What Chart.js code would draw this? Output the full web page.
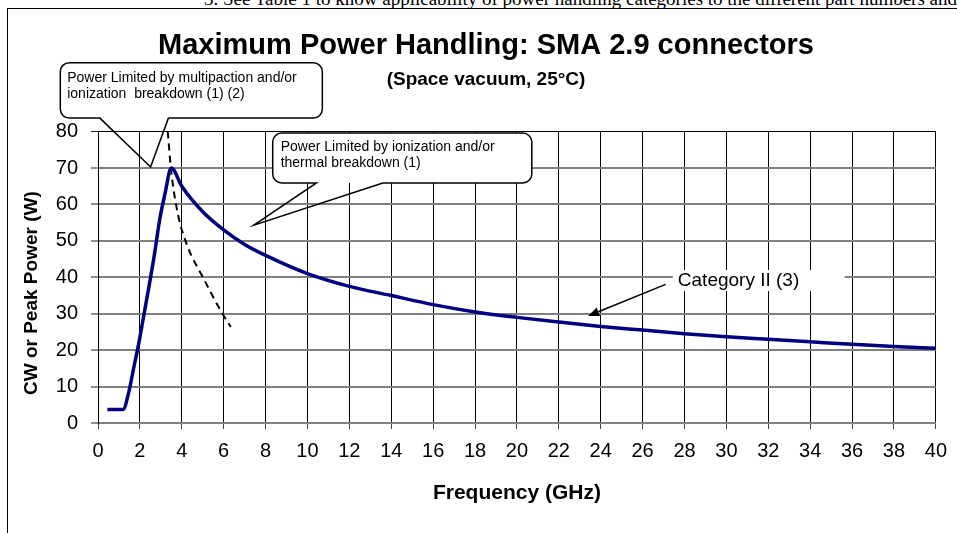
<!DOCTYPE html>
<html>
<head>
<meta charset="utf-8">
<script src="https://cdn.jsdelivr.net/npm/chart.js@4.4.1/dist/chart.umd.min.js"></script>
<style>
  html, body { margin: 0; padding: 0; background: #fff; overflow: hidden; }
  #page { position: relative; width: 957px; height: 533px; }
  .note { position: absolute; left: 204px; top: -11px; font: 19px 'Liberation Serif', 'Times New Roman', serif; line-height: 19px; white-space: nowrap; }
  .frame { position: absolute; left: 7px; top: 8px; right: 0; bottom: 0; border-left: 1px solid #000; border-top: 1px solid #000; }
  canvas { position: absolute; left: 0; top: 0; }
</style>
</head>
<body>
<div id="page">
  <div class="note">3. See Table 1 to know applicability of power handling categories to the different part numbers and</div>
  <div class="frame"></div>
  <canvas id="chart" width="957" height="533"></canvas>
</div>
<script>
// ===== Data =====
const freqGHz = [0.45, 1.2, 1.45, 1.7, 1.95, 2.2, 2.45, 2.7, 2.95, 3.2, 3.5, 4, 5, 6, 7, 8, 10, 12, 14, 16, 18, 20, 22, 24, 26, 28, 30, 32, 34, 36, 38, 40];
const powerW = [3.7, 3.7, 8, 15, 22, 30, 38, 46.5, 56, 63, 70, 65, 58, 53, 49, 46, 41, 37.5, 35, 32.5, 30.5, 29, 27.7, 26.5, 25.5, 24.5, 23.7, 23, 22.3, 21.6, 21, 20.5];

// dashed multipaction / ionization limit
const limitFreqGHz = [3.33, 3.49, 3.81, 4.28, 5.0, 5.94, 6.34];
const limitPowerW = [80, 69.4, 57.5, 48.4, 40.1, 30.0, 26.4];

const xTickValues = [0, 2, 4, 6, 8, 10, 12, 14, 16, 18, 20, 22, 24, 26, 28, 30, 32, 34, 36, 38, 40];
const yTickValues = [0, 10, 20, 30, 40, 50, 60, 70, 80];

const titleText = 'Maximum Power Handling: SMA 2.9 connectors';
const subtitleText = '(Space vacuum, 25°C)';
const xTitle = 'Frequency (GHz)';
const yTitle = 'CW or Peak Power (W)      '; // trailing spaces nudge it down like the original

// ===== Callouts (placed in data units) =====
const bubbles = [
  { lines: ['Power Limited by multipaction and/or', 'ionization  breakdown (1) (2)'],
    box: [-1.8, 10.71, 98.9, 83.7], base: [0.09, 3.36], tip: [2.51, 70.3], text: [-1.47, 94.6, 90.4] },
  { lines: ['Power Limited by ionization and/or', 'thermal breakdown (1)'],
    box: [8.34, 20.71, 79.6, 65.9], base: [10.43, 13.6], tip: [7.44, 54.3], text: [8.72, 75.8, 71.3] }
];
const categoryLabel = { text: 'Category II (3)', bg: [27.44, 35.65, 42.0, 36.2], at: [27.68, 39.0], from: [27.1, 38.05], to: [23.4, 29.4] };

const FONT = "'Liberation Sans', Arial, sans-serif";

function roundedPath(ctx, l, t, r, b, rad, b1, b2, tip) {
  ctx.beginPath();
  ctx.moveTo(b2, b);
  ctx.lineTo(r - rad, b);
  ctx.arcTo(r, b, r, b - rad, rad);
  ctx.lineTo(r, t + rad);
  ctx.arcTo(r, t, r - rad, t, rad);
  ctx.lineTo(l + rad, t);
  ctx.arcTo(l, t, l, t + rad, rad);
  ctx.lineTo(l, b - rad);
  ctx.arcTo(l, b, l + rad, b, rad);
  ctx.lineTo(b1, b);
  if (tip) {
    ctx.lineTo(tip[0], tip[1]);
    ctx.lineTo(b2, b);
  } else {
    ctx.closePath();
  }
}

const calloutPlugin = {
  id: 'callouts',
  afterDatasetsDraw(chart) {
    const { ctx, scales: { x, y } } = chart;
    const px = v => x.getPixelForValue(v);
    const py = v => y.getPixelForValue(v);
    ctx.save();

    bubbles.forEach(bb => {
      const l = px(bb.box[0]), r = px(bb.box[1]), t = py(bb.box[2]), b = py(bb.box[3]);
      const rad = 9;
      // white body
      roundedPath(ctx, l, t, r, b, rad, l + rad, l + rad, null);
      ctx.fillStyle = '#fff';
      ctx.fill();
      // outline + wedge
      roundedPath(ctx, l, t, r, b, rad, px(bb.base[0]), px(bb.base[1]), [px(bb.tip[0]), py(bb.tip[1])]);
      ctx.lineWidth = 1.5;
      ctx.strokeStyle = '#000';
      ctx.stroke();
      // text
      ctx.fillStyle = '#000';
      ctx.font = '14px ' + FONT;
      ctx.textAlign = 'left';
      ctx.textBaseline = 'middle';
      bb.lines.forEach((ln, i) => ctx.fillText(ln, px(bb.text[0]), py(bb.text[i + 1])));
    });

    // Category II label with arrow
    const c = categoryLabel;
    ctx.fillStyle = '#fff';
    ctx.fillRect(px(c.bg[0]), py(c.bg[2]), px(c.bg[1]) - px(c.bg[0]), py(c.bg[3]) - py(c.bg[2]));
    ctx.fillStyle = '#000';
    ctx.font = '19px ' + FONT;
    ctx.textAlign = 'left';
    ctx.textBaseline = 'middle';
    ctx.fillText(c.text, px(c.at[0]), py(c.at[1]));

    const x0 = px(c.from[0]), y0 = py(c.from[1]), x1 = px(c.to[0]), y1 = py(c.to[1]);
    const ang = Math.atan2(y1 - y0, x1 - x0);
    const hl = 11, hw = 4.5;
    const bx = x1 - hl * Math.cos(ang), by = y1 - hl * Math.sin(ang);
    ctx.beginPath();
    ctx.moveTo(x0, y0);
    ctx.lineTo(bx, by);
    ctx.lineWidth = 1.5;
    ctx.strokeStyle = '#000';
    ctx.stroke();
    ctx.beginPath();
    ctx.moveTo(x1, y1);
    ctx.lineTo(bx + hw * Math.sin(ang), by - hw * Math.cos(ang));
    ctx.lineTo(bx - hw * Math.sin(ang), by + hw * Math.cos(ang));
    ctx.closePath();
    ctx.fill();

    ctx.restore();
  }
};

const ctx = document.getElementById('chart').getContext('2d');
new Chart(ctx, {
  type: 'line',
  data: {
    datasets: [
      {
        label: 'Category II',
        data: freqGHz.map((f, i) => ({ x: f, y: powerW[i] })),
        borderColor: '#000080',
        borderWidth: 3.5,
        pointRadius: 0,
        cubicInterpolationMode: 'monotone',
        fill: false
      },
      {
        label: 'Multipaction limit',
        data: limitFreqGHz.map((f, i) => ({ x: f, y: limitPowerW[i] })),
        borderColor: '#000',
        borderWidth: 2,
        borderDash: [7, 5],
        pointRadius: 0,
        cubicInterpolationMode: 'monotone',
        fill: false
      }
    ]
  },
  options: {
    responsive: false,
    animation: false,
    events: [],
    layout: { padding: { left: 30, right: 15, top: 0, bottom: 8 } },
    plugins: {
      legend: { display: false },
      tooltip: { enabled: false },
      title: {
        display: true,
        text: titleText,
        color: '#000',
        font: { family: FONT, size: 29, weight: 'bold', lineHeight: 1.2 },
        padding: { top: 29, bottom: 4 }
      },
      subtitle: {
        display: true,
        text: subtitleText,
        color: '#000',
        font: { family: FONT, size: 19, weight: 'bold', lineHeight: 1.2 },
        padding: { top: 1, bottom: 40 }
      }
    },
    scales: {
      x: {
        type: 'linear',
        min: 0,
        max: 40,
        afterBuildTicks: s => { s.ticks = xTickValues.map(v => ({ value: v })); },
        afterFit: s => { s.height = 102; },
        ticks: { color: '#000', font: { family: FONT, size: 20 }, padding: 10, maxRotation: 0, autoSkip: false },
        grid: { color: '#000', lineWidth: 1, tickLength: 6, tickColor: '#444' },
        border: { color: '#808080', width: 2 },
        title: { display: true, text: xTitle, color: '#000', font: { family: FONT, size: 21, weight: 'bold', lineHeight: 1.2 }, padding: { top: 0, bottom: 19 } }
      },
      y: {
        type: 'linear',
        min: 0,
        max: 80,
        afterBuildTicks: s => { s.ticks = yTickValues.map(v => ({ value: v })); },
        afterFit: s => { s.width = 68; },
        ticks: { color: '#000', font: { family: FONT, size: 20 }, padding: 13 },
        grid: {
          color: c => (c.tick && c.tick.value === 80 ? '#000' : '#808080'),
          lineWidth: c => (c.tick && c.tick.value === 80 ? 1 : 2),
          tickLength: 7,
          tickColor: '#222',
          tickWidth: 1
        },
        border: { color: '#000', width: 1 },
        title: { display: true, text: yTitle, color: '#000', font: { family: FONT, size: 19, weight: 'bold', lineHeight: 1.2 }, padding: { top: -10, bottom: 0 } }
      }
    }
  },
  plugins: [calloutPlugin]
});
</script>
</body>
</html>
